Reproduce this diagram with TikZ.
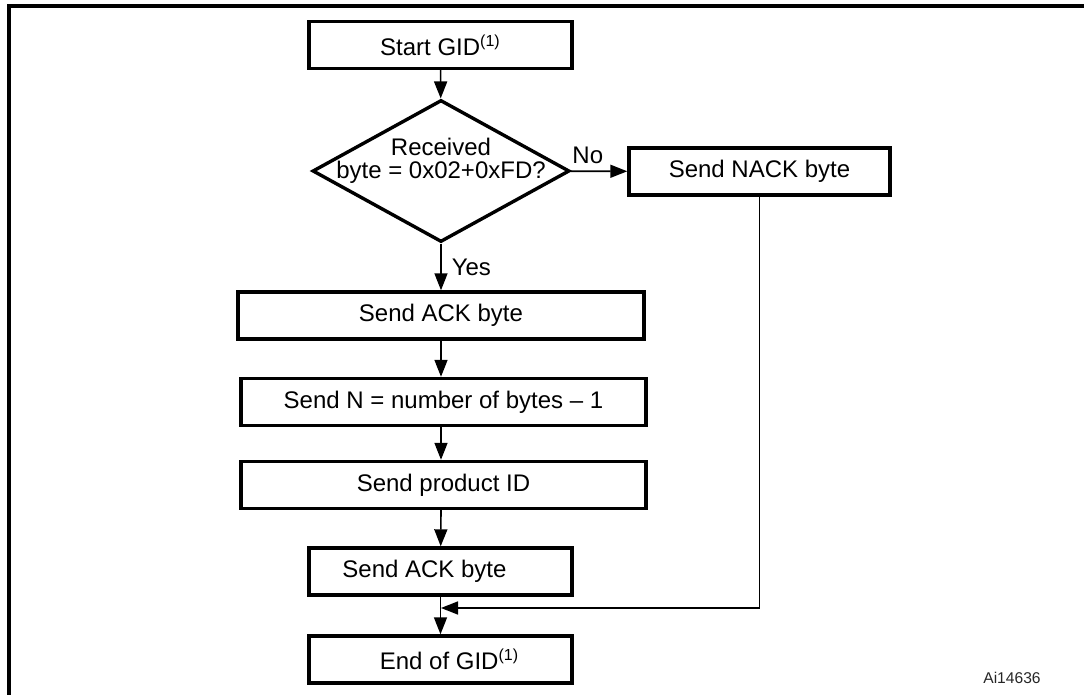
\documentclass[tikz,border=0pt]{standalone}
\usepackage{fontspec}
\setmainfont{Liberation Sans}
\usepackage{tikz}
\usetikzlibrary{positioning,arrows.meta,calc,shapes.geometric}
\tikzset{
    block/.style = {
        draw,
        shape=rectangle,
        minimum height=23.5pt,
        inner sep=0pt,
        line width=1.7pt,
        font=\fontsize{12}{14}\selectfont
    },
    decision/.style = {
        draw,
        shape=diamond,
        minimum width=128.5pt,
        minimum height=71pt,
        inner sep=0pt,
        line width=1.7pt
    },
    empty/.style = {
        shape=rectangle,
        inner sep=1pt,
        font=\fontsize{12}{11.5}\selectfont
    },
    wire/.style = {
        line width=0.8pt
    },
    >={Triangle[length=8.5pt,width=6.5pt]},
}

\begin{document}
\begin{tikzpicture}[x=0.5pt,y=-0.5pt]
            \useasboundingbox (0,0) rectangle (1084,695);
            \draw[line width=2pt, line join=miter] (9,695) -- (9,6) -- (1084,6);

            \node[block, minimum width=131.5pt] (start) at (440.5,45) {Start GID\textsuperscript{(1)}};
            \node[decision] (dec) at (441,171) {};
            \node[empty, align=center] (dectext) at (441,161) {Received\\byte = 0x02+0xFD?};
            \node[block, minimum width=130.5pt] (nack) at (759.5,171.5) {Send NACK byte};
            \node[block, minimum width=203pt] (ack) at (441,315.5) {Send ACK byte};
            \node[block, minimum width=202.5pt] (sendn) at (443.5,402) {Send N = number of bytes -- 1};
            \node[block, minimum width=202.5pt] (prodid) at (443.5,485) {Send product ID};
            \node[block, minimum width=131.5pt] (ackend) at (440.5,571.5) {Send ACK byte\hspace*{16pt}};
            \node[block, minimum width=131.5pt] (endgid) at (440.5,659.5) {\hspace*{9pt}End of GID\textsuperscript{(1)}};
            \coordinate (merge) at (441,608);
            \node[empty, font=\fontsize{7.8}{9}\selectfont, text=black!85] (figid) at (1012,678) {Ai14636};

            \path[draw, wire, ->] (start) -- (dec);
            \path[draw, wire, ->] (dec) -- node[empty, above, pos=0.3, yshift=2.5pt, font=\fontsize{12}{14}\selectfont] (no) {No} (nack);
            \path[draw, wire, ->] (dec) -- node[empty, right, xshift=4pt, font=\fontsize{12}{14}\selectfont] (yes) {Yes} (ack);
            \path[draw, wire, ->] (ack) -- (ack |- sendn.north);
            \path[draw, wire, ->] (ack |- sendn.south) -- (ack |- prodid.north);
            \path[draw, wire, ->] (ack |- prodid.south) -- (ackend);
            \path[draw, wire, ->] (ackend) -- (endgid);
            \path[draw, wire, ->] (nack.south) |- (merge);
        \end{tikzpicture}
\end{document}
